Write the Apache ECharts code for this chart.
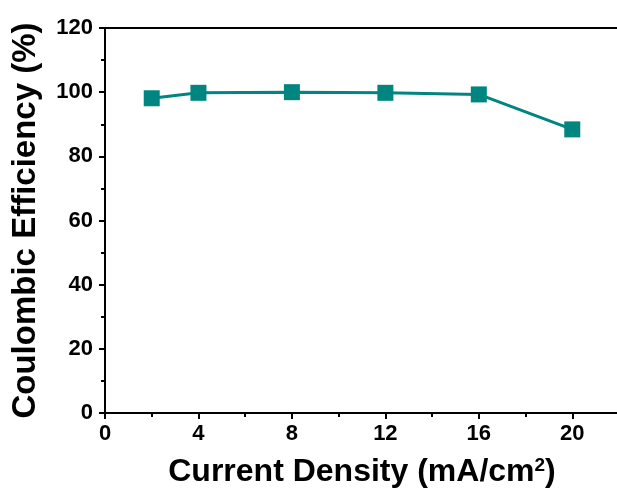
<!DOCTYPE html>
<html>
<head>
<meta charset="utf-8">
<script src="https://cdn.jsdelivr.net/npm/echarts@6/dist/echarts.min.js"></script>
<style>
html,body{margin:0;padding:0;background:#fff;}
#main{width:617px;height:491px;}
</style>
</head>
<body>
<div id="main"></div>
<script>
// current density (mA/cm2) vs coulombic efficiency (%)
var density = [2, 4, 8, 12, 16, 20];
var efficiency = [98.1, 99.8, 100, 99.8, 99.3, 88.4];
var xTicks = [0, 4, 8, 12, 16, 20];

var chart = echarts.init(document.getElementById('main'));
var font = 'Liberation Sans, Arial, sans-serif';
var axisLine = {show: true, lineStyle: {color: '#000', width: 2}};

var option = {
    animation: false,
    backgroundColor: '#fff',
    grid: {left: 105, width: 514, top: 28, height: 385, outerBoundsMode: 'none'},
    xAxis: {
        type: 'value',
        min: 0, max: 22, interval: 4,
        axisLine: axisLine,
        axisTick: {show: true, inside: false, length: 6, lineStyle: {width: 2, color: '#000'}},
        minorTick: {show: true, splitNumber: 2, length: 4, lineStyle: {width: 2, color: '#000'}},
        splitLine: {show: false},
        axisLabel: {
            color: '#000', fontFamily: font, fontWeight: 'bold', fontSize: 22, margin: 10,
            formatter: function (v) { return xTicks.indexOf(v) >= 0 ? v : ''; }
        },
        name: '{t|Current Density (mA/cm}{s|2}{t|)}',
        nameLocation: 'middle',
        nameGap: 43,
        nameTextStyle: {
            rich: {
                t: {fontFamily: font, fontWeight: 'bold', fontSize: 32, color: '#000'},
                s: {fontFamily: font, fontWeight: 'bold', fontSize: 19, color: '#000', verticalAlign: 'top', padding: [0, 0, 14, 0]}
            }
        }
    },
    yAxis: {
        type: 'value',
        min: 0, max: 120, interval: 20,
        axisLine: axisLine,
        axisTick: {show: true, inside: false, length: 6, lineStyle: {width: 2, color: '#000'}},
        minorTick: {show: true, splitNumber: 2, length: 4, lineStyle: {width: 2, color: '#000'}},
        splitLine: {show: false},
        axisLabel: {color: '#000', fontFamily: font, fontWeight: 'bold', fontSize: 22, margin: 12},
        name: 'Coulombic Efficiency (%)',
        nameLocation: 'middle',
        nameGap: 63,
        nameTextStyle: {fontFamily: font, fontWeight: 'bold', fontSize: 33, color: '#000'}
    },
    series: [{
        type: 'line',
        data: density.map(function (d, i) { return [d, efficiency[i]]; }),
        symbol: 'rect',
        symbolSize: 16,
        lineStyle: {color: '#008580', width: 3},
        itemStyle: {color: '#008580'}
    }],
    graphic: [{
        type: 'line',
        shape: {x1: 105, y1: 28, x2: 617, y2: 28},
        style: {stroke: '#000', lineWidth: 2}
    }]
};
chart.setOption(option);
</script>
</body>
</html>
